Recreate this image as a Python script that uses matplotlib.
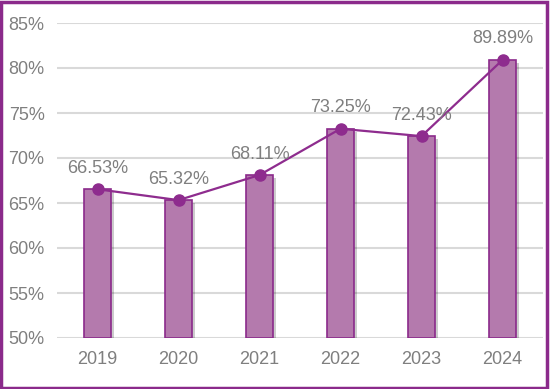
import matplotlib
matplotlib.use("Agg")
import matplotlib.pyplot as plt
import matplotlib.patheffects as pe
from matplotlib.patches import Rectangle

years = ["2019", "2020", "2021", "2022", "2023", "2024"]
values = [66.53, 65.32, 68.11, 73.25, 72.43, 80.89]
labels = ["66.53%", "65.32%", "68.11%", "73.25%", "72.43%", "89.89%"]
yticks = [50, 55, 60, 65, 70, 75, 80, 85]

plt.rcParams['font.family'] = ['Liberation Sans', 'DejaVu Sans']

fig = plt.figure(figsize=(5.5, 3.89), dpi=100)
ax = fig.add_axes([57/550, 1-338/389, (543-57)/550, (338-23)/389])

x = list(range(len(years)))
bars = ax.bar(x, [v - 50 for v in values], bottom=50, width=0.33,
              color="#B47AAD", edgecolor="#8B2A8B", linewidth=1.2, zorder=3)
for b in bars:
    b.set_path_effects([pe.SimplePatchShadow(offset=(2, -2), shadow_rgbFace="#000000", alpha=0.2), pe.Normal()])

ax.plot(x, values, color="#8E2C8E", linewidth=1.6, marker="o", markersize=8,
        markerfacecolor="#8E2C8E", markeredgecolor="#8E2C8E", zorder=5)

for xi, v, lab in zip(x, values, labels):
    ax.annotate(lab, (xi, v), xytext=(0, 9), textcoords="offset points",
                ha="center", va="bottom", fontsize=13, color="#7F7F7F", zorder=6)

ax.set_ylim(50, 85)
ax.set_xlim(-0.5, 5.5)
ax.set_yticks(yticks)
ax.set_yticklabels([f"{t}%" for t in yticks])
ax.set_xticks(x)
ax.set_xticklabels(years)
ax.tick_params(axis="both", length=0, labelsize=13, labelcolor="#7F7F7F")
ax.tick_params(axis="x", pad=9)
ax.tick_params(axis="y", pad=9)
ax.grid(axis="y", color="#D9D9D9", linewidth=1.5, zorder=0)
for s in ax.spines.values():
    s.set_visible(False)

fig.patches.append(Rectangle((0.002, 0.003), 0.993, 0.993, transform=fig.transFigure,
                             fill=False, edgecolor="#8B2A8B", linewidth=2.5))

fig.savefig("out.png", dpi=100)
